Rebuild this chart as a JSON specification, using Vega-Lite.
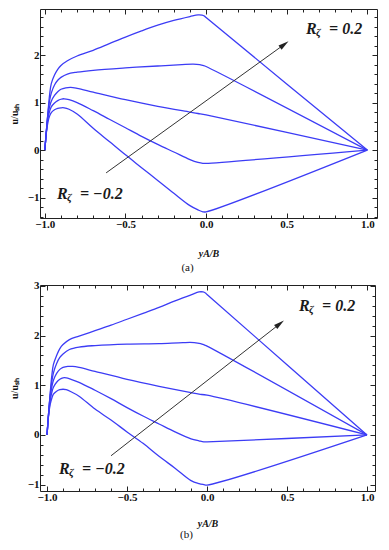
{
  "$schema": "https://vega.github.io/schema/vega-lite/v6.json",
  "padding": {"left": 8, "top": 8, "right": 5, "bottom": 5},
  "background": "white",
  "spacing": 67,
  "bounds": "flush",
  "config": {
    "view": {"stroke": "#222", "strokeWidth": 1},
    "axis": {"domain": false, "grid": false, "tickColor": "#222", "tickWidth": 1, "labelFont": "Liberation Serif", "labelFontWeight": "bold", "labelFontSize": 11, "labelColor": "#111", "titleFont": "Liberation Serif", "titleFontWeight": "bold", "titleColor": "#111", "titleFontSize": 10}
  },
  "datasets": {
    "curvesA": [
      {"R": 0.2, "x": -1, "y": 0}, {"R": 0.2, "x": -0.99, "y": 0.42}, {"R": 0.2, "x": -0.98, "y": 0.82}, {"R": 0.2, "x": -0.97, "y": 1.18}, {"R": 0.2, "x": -0.96, "y": 1.4}, {"R": 0.2, "x": -0.94, "y": 1.58}, {"R": 0.2, "x": -0.92, "y": 1.7}, {"R": 0.2, "x": -0.9, "y": 1.78}, {"R": 0.2, "x": -0.86, "y": 1.88}, {"R": 0.2, "x": -0.8, "y": 1.98}, {"R": 0.2, "x": -0.7, "y": 2.1}, {"R": 0.2, "x": -0.6, "y": 2.24}, {"R": 0.2, "x": -0.5, "y": 2.38}, {"R": 0.2, "x": -0.4, "y": 2.51}, {"R": 0.2, "x": -0.3, "y": 2.63}, {"R": 0.2, "x": -0.2, "y": 2.73}, {"R": 0.2, "x": -0.1, "y": 2.81}, {"R": 0.2, "x": -0.05, "y": 2.845}, {"R": 0.2, "x": -0.025, "y": 2.84}, {"R": 0.2, "x": -0.01, "y": 2.82}, {"R": 0.2, "x": 0, "y": 2.79}, {"R": 0.2, "x": 1, "y": 0},
      {"R": 0.1, "x": -1, "y": 0}, {"R": 0.1, "x": -0.99, "y": 0.42}, {"R": 0.1, "x": -0.98, "y": 0.8}, {"R": 0.1, "x": -0.97, "y": 1.05}, {"R": 0.1, "x": -0.96, "y": 1.2}, {"R": 0.1, "x": -0.94, "y": 1.37}, {"R": 0.1, "x": -0.92, "y": 1.47}, {"R": 0.1, "x": -0.9, "y": 1.53}, {"R": 0.1, "x": -0.86, "y": 1.6}, {"R": 0.1, "x": -0.8, "y": 1.64}, {"R": 0.1, "x": -0.7, "y": 1.68}, {"R": 0.1, "x": -0.5, "y": 1.73}, {"R": 0.1, "x": -0.3, "y": 1.77}, {"R": 0.1, "x": -0.15, "y": 1.8}, {"R": 0.1, "x": -0.08, "y": 1.81}, {"R": 0.1, "x": -0.04, "y": 1.8}, {"R": 0.1, "x": -0.015, "y": 1.78}, {"R": 0.1, "x": 0, "y": 1.76}, {"R": 0.1, "x": 1, "y": 0},
      {"R": 0, "x": -1, "y": 0}, {"R": 0, "x": -0.99, "y": 0.42}, {"R": 0, "x": -0.98, "y": 0.75}, {"R": 0, "x": -0.97, "y": 0.92}, {"R": 0, "x": -0.96, "y": 1.03}, {"R": 0, "x": -0.94, "y": 1.15}, {"R": 0, "x": -0.92, "y": 1.23}, {"R": 0, "x": -0.9, "y": 1.28}, {"R": 0, "x": -0.87, "y": 1.31}, {"R": 0, "x": -0.84, "y": 1.32}, {"R": 0, "x": -0.8, "y": 1.3}, {"R": 0, "x": -0.7, "y": 1.22}, {"R": 0, "x": -0.5, "y": 1.06}, {"R": 0, "x": -0.3, "y": 0.92}, {"R": 0, "x": -0.1, "y": 0.8}, {"R": 0, "x": -0.05, "y": 0.77}, {"R": 0, "x": 0, "y": 0.74}, {"R": 0, "x": 1, "y": 0},
      {"R": -0.1, "x": -1, "y": 0}, {"R": -0.1, "x": -0.99, "y": 0.4}, {"R": -0.1, "x": -0.98, "y": 0.68}, {"R": -0.1, "x": -0.97, "y": 0.82}, {"R": -0.1, "x": -0.96, "y": 0.91}, {"R": -0.1, "x": -0.94, "y": 0.99}, {"R": -0.1, "x": -0.92, "y": 1.04}, {"R": -0.1, "x": -0.9, "y": 1.07}, {"R": -0.1, "x": -0.88, "y": 1.08}, {"R": -0.1, "x": -0.85, "y": 1.06}, {"R": -0.1, "x": -0.8, "y": 1.0}, {"R": -0.1, "x": -0.7, "y": 0.83}, {"R": -0.1, "x": -0.6, "y": 0.65}, {"R": -0.1, "x": -0.5, "y": 0.47}, {"R": -0.1, "x": -0.4, "y": 0.29}, {"R": -0.1, "x": -0.3, "y": 0.12}, {"R": -0.1, "x": -0.2, "y": -0.04}, {"R": -0.1, "x": -0.1, "y": -0.2}, {"R": -0.1, "x": -0.05, "y": -0.26}, {"R": -0.1, "x": -0.02, "y": -0.28}, {"R": -0.1, "x": 0, "y": -0.28}, {"R": -0.1, "x": 1, "y": 0},
      {"R": -0.2, "x": -1, "y": 0}, {"R": -0.2, "x": -0.99, "y": 0.38}, {"R": -0.2, "x": -0.98, "y": 0.6}, {"R": -0.2, "x": -0.97, "y": 0.72}, {"R": -0.2, "x": -0.96, "y": 0.79}, {"R": -0.2, "x": -0.94, "y": 0.85}, {"R": -0.2, "x": -0.92, "y": 0.88}, {"R": -0.2, "x": -0.9, "y": 0.89}, {"R": -0.2, "x": -0.88, "y": 0.89}, {"R": -0.2, "x": -0.85, "y": 0.86}, {"R": -0.2, "x": -0.8, "y": 0.76}, {"R": -0.2, "x": -0.7, "y": 0.46}, {"R": -0.2, "x": -0.6, "y": 0.18}, {"R": -0.2, "x": -0.5, "y": -0.1}, {"R": -0.2, "x": -0.4, "y": -0.37}, {"R": -0.2, "x": -0.3, "y": -0.64}, {"R": -0.2, "x": -0.2, "y": -0.91}, {"R": -0.2, "x": -0.1, "y": -1.17}, {"R": -0.2, "x": -0.05, "y": -1.26}, {"R": -0.2, "x": -0.02, "y": -1.3}, {"R": -0.2, "x": 0, "y": -1.3}, {"R": -0.2, "x": 1, "y": 0}
    ],
    "curvesB": [
      {"R": 0.2, "x": -1, "y": 0}, {"R": 0.2, "x": -0.99, "y": 0.45}, {"R": 0.2, "x": -0.98, "y": 0.85}, {"R": 0.2, "x": -0.97, "y": 1.2}, {"R": 0.2, "x": -0.96, "y": 1.42}, {"R": 0.2, "x": -0.94, "y": 1.6}, {"R": 0.2, "x": -0.92, "y": 1.74}, {"R": 0.2, "x": -0.9, "y": 1.82}, {"R": 0.2, "x": -0.86, "y": 1.92}, {"R": 0.2, "x": -0.8, "y": 1.99}, {"R": 0.2, "x": -0.7, "y": 2.1}, {"R": 0.2, "x": -0.6, "y": 2.21}, {"R": 0.2, "x": -0.5, "y": 2.33}, {"R": 0.2, "x": -0.4, "y": 2.45}, {"R": 0.2, "x": -0.3, "y": 2.57}, {"R": 0.2, "x": -0.2, "y": 2.7}, {"R": 0.2, "x": -0.1, "y": 2.82}, {"R": 0.2, "x": -0.05, "y": 2.88}, {"R": 0.2, "x": -0.025, "y": 2.88}, {"R": 0.2, "x": -0.01, "y": 2.86}, {"R": 0.2, "x": 0, "y": 2.83}, {"R": 0.2, "x": 1, "y": 0},
      {"R": 0.1, "x": -1, "y": 0}, {"R": 0.1, "x": -0.99, "y": 0.45}, {"R": 0.1, "x": -0.98, "y": 0.82}, {"R": 0.1, "x": -0.97, "y": 1.08}, {"R": 0.1, "x": -0.96, "y": 1.25}, {"R": 0.1, "x": -0.94, "y": 1.44}, {"R": 0.1, "x": -0.92, "y": 1.56}, {"R": 0.1, "x": -0.9, "y": 1.63}, {"R": 0.1, "x": -0.86, "y": 1.72}, {"R": 0.1, "x": -0.8, "y": 1.77}, {"R": 0.1, "x": -0.7, "y": 1.8}, {"R": 0.1, "x": -0.5, "y": 1.83}, {"R": 0.1, "x": -0.3, "y": 1.84}, {"R": 0.1, "x": -0.15, "y": 1.86}, {"R": 0.1, "x": -0.08, "y": 1.86}, {"R": 0.1, "x": -0.04, "y": 1.84}, {"R": 0.1, "x": -0.015, "y": 1.81}, {"R": 0.1, "x": 0, "y": 1.79}, {"R": 0.1, "x": 1, "y": 0},
      {"R": 0, "x": -1, "y": 0}, {"R": 0, "x": -0.99, "y": 0.44}, {"R": 0, "x": -0.98, "y": 0.78}, {"R": 0, "x": -0.97, "y": 0.97}, {"R": 0, "x": -0.96, "y": 1.1}, {"R": 0, "x": -0.94, "y": 1.24}, {"R": 0, "x": -0.92, "y": 1.32}, {"R": 0, "x": -0.9, "y": 1.36}, {"R": 0, "x": -0.87, "y": 1.38}, {"R": 0, "x": -0.84, "y": 1.38}, {"R": 0, "x": -0.8, "y": 1.36}, {"R": 0, "x": -0.7, "y": 1.28}, {"R": 0, "x": -0.5, "y": 1.12}, {"R": 0, "x": -0.3, "y": 0.98}, {"R": 0, "x": -0.1, "y": 0.85}, {"R": 0, "x": -0.05, "y": 0.82}, {"R": 0, "x": 0, "y": 0.8}, {"R": 0, "x": 1, "y": 0},
      {"R": -0.1, "x": -1, "y": 0}, {"R": -0.1, "x": -0.99, "y": 0.42}, {"R": -0.1, "x": -0.98, "y": 0.7}, {"R": -0.1, "x": -0.97, "y": 0.86}, {"R": -0.1, "x": -0.96, "y": 0.96}, {"R": -0.1, "x": -0.94, "y": 1.06}, {"R": -0.1, "x": -0.92, "y": 1.12}, {"R": -0.1, "x": -0.9, "y": 1.15}, {"R": -0.1, "x": -0.88, "y": 1.15}, {"R": -0.1, "x": -0.85, "y": 1.12}, {"R": -0.1, "x": -0.8, "y": 1.06}, {"R": -0.1, "x": -0.7, "y": 0.9}, {"R": -0.1, "x": -0.6, "y": 0.73}, {"R": -0.1, "x": -0.5, "y": 0.55}, {"R": -0.1, "x": -0.4, "y": 0.38}, {"R": -0.1, "x": -0.3, "y": 0.22}, {"R": -0.1, "x": -0.2, "y": 0.06}, {"R": -0.1, "x": -0.1, "y": -0.08}, {"R": -0.1, "x": -0.05, "y": -0.12}, {"R": -0.1, "x": -0.02, "y": -0.14}, {"R": -0.1, "x": 0, "y": -0.14}, {"R": -0.1, "x": 1, "y": 0},
      {"R": -0.2, "x": -1, "y": 0}, {"R": -0.2, "x": -0.99, "y": 0.4}, {"R": -0.2, "x": -0.98, "y": 0.62}, {"R": -0.2, "x": -0.97, "y": 0.74}, {"R": -0.2, "x": -0.96, "y": 0.82}, {"R": -0.2, "x": -0.94, "y": 0.88}, {"R": -0.2, "x": -0.92, "y": 0.91}, {"R": -0.2, "x": -0.9, "y": 0.92}, {"R": -0.2, "x": -0.88, "y": 0.91}, {"R": -0.2, "x": -0.85, "y": 0.87}, {"R": -0.2, "x": -0.8, "y": 0.78}, {"R": -0.2, "x": -0.7, "y": 0.52}, {"R": -0.2, "x": -0.6, "y": 0.3}, {"R": -0.2, "x": -0.5, "y": 0.06}, {"R": -0.2, "x": -0.4, "y": -0.17}, {"R": -0.2, "x": -0.3, "y": -0.43}, {"R": -0.2, "x": -0.2, "y": -0.67}, {"R": -0.2, "x": -0.1, "y": -0.92}, {"R": -0.2, "x": -0.05, "y": -0.98}, {"R": -0.2, "x": -0.02, "y": -1.0}, {"R": -0.2, "x": 0, "y": -1.01}, {"R": -0.2, "x": 1, "y": 0}
    ],
    "arrowA": [{"x": -0.62, "y": -0.48}, {"x": 0.485, "y": 2.224}],
    "headA": [{"x": 0.485, "y": 2.224}],
    "labelsA": [{"x": -0.925, "y": -0.93, "r": "R", "z": "ζ", "v": "=  −0.2"}, {"x": 0.62, "y": 2.55, "r": "R", "z": "ζ", "v": "=  0.2"}],
    "arrowB": [{"x": -0.6, "y": -0.42}, {"x": 0.455, "y": 2.238}],
    "headB": [{"x": 0.455, "y": 2.238}],
    "labelsB": [{"x": -0.925, "y": -0.69, "r": "R", "z": "ζ", "v": "=  −0.2"}, {"x": 0.575, "y": 2.6, "r": "R", "z": "ζ", "v": "=  0.2"}]
  },
  "vconcat": [
    {
      "width": 337, "height": 209,
      "title": {"text": "(a)", "orient": "bottom", "anchor": "middle", "font": "Liberation Serif", "fontSize": 11, "fontWeight": "normal", "color": "#111", "offset": 4, "dx": -21},
      "resolve": {"scale": {"x": "shared", "y": "shared"}, "axis": {"x": "independent", "y": "independent"}},
      "layer": [
        {
          "data": {"name": "curvesA"},
          "mark": {"type": "line", "interpolate": "catmull-rom", "color": "#3c3cf5", "strokeWidth": 1.3},
          "encoding": {
            "x": {"field": "x", "type": "quantitative", "scale": {"domain": [-1.03, 1.06], "nice": false, "zero": false}, "axis": {"orient": "bottom", "values": [-1, -0.5, 0, 0.5, 1], "format": ".1f", "tickSize": -5, "labelPadding": 5, "title": "yA/B", "titleFontStyle": "italic", "titlePadding": 19}},
            "y": {"field": "y", "type": "quantitative", "scale": {"domain": [-1.43, 2.97], "nice": false, "zero": false}, "axis": {"orient": "left", "values": [-1, 0, 1, 2], "format": "d", "tickSize": -5, "labelPadding": 6, "title": "u/uₛₕ", "titlePadding": 8}},
            "detail": {"field": "R", "type": "nominal"}
          }
        },
        {
          "data": {"name": "arrowA"},
          "mark": {"type": "line", "color": "#333", "strokeWidth": 1},
          "encoding": {
            "x": {"field": "x", "type": "quantitative", "scale": {"domain": [-1.03, 1.06], "nice": false, "zero": false}, "axis": {"orient": "top", "values": [-1, -0.5, 0, 0.5, 1], "labels": false, "tickSize": -5, "title": null}},
            "y": {"field": "y", "type": "quantitative", "scale": {"domain": [-1.43, 2.97], "nice": false, "zero": false}, "axis": {"orient": "right", "values": [-1, 0, 1, 2], "labels": false, "tickSize": -5, "title": null}}
          }
        },
        {
          "data": {"name": "headA"},
          "mark": {"type": "point", "shape": "M0,-1L0.5,1L-0.5,1Z", "filled": true, "color": "#222", "size": 110, "angle": 54, "opacity": 1},
          "encoding": {
            "x": {"field": "x", "type": "quantitative", "scale": {"domain": [-1.03, 1.06], "nice": false, "zero": false}, "axis": {"orient": "bottom", "values": [-1, -0.9, -0.8, -0.7, -0.6, -0.5, -0.4, -0.3, -0.2, -0.1, 0, 0.1, 0.2, 0.3, 0.4, 0.5, 0.6, 0.7, 0.8, 0.9, 1], "labels": false, "tickSize": -3, "title": null}},
            "y": {"field": "y", "type": "quantitative", "scale": {"domain": [-1.43, 2.97], "nice": false, "zero": false}, "axis": {"orient": "left", "values": [-1.4, -1.2, -1, -0.8, -0.6, -0.4, -0.2, 0, 0.2, 0.4, 0.6, 0.8, 1, 1.2, 1.4, 1.6, 1.8, 2, 2.2, 2.4, 2.6, 2.8], "labels": false, "tickSize": -3, "title": null}}
          }
        },
        {
          "data": {"name": "labelsA"},
          "mark": {"type": "text", "align": "left", "baseline": "middle", "font": "Liberation Serif", "fontSize": 16, "fontWeight": "bold", "fontStyle": "italic", "color": "#1a1a1a"},
          "encoding": {
            "x": {"field": "x", "type": "quantitative", "scale": {"domain": [-1.03, 1.06], "nice": false, "zero": false}, "axis": {"orient": "top", "values": [-1, -0.9, -0.8, -0.7, -0.6, -0.5, -0.4, -0.3, -0.2, -0.1, 0, 0.1, 0.2, 0.3, 0.4, 0.5, 0.6, 0.7, 0.8, 0.9, 1], "labels": false, "tickSize": -3, "title": null}},
            "y": {"field": "y", "type": "quantitative", "scale": {"domain": [-1.43, 2.97], "nice": false, "zero": false}, "axis": {"orient": "right", "values": [-1.4, -1.2, -1, -0.8, -0.6, -0.4, -0.2, 0, 0.2, 0.4, 0.6, 0.8, 1, 1.2, 1.4, 1.6, 1.8, 2, 2.2, 2.4, 2.6, 2.8], "labels": false, "tickSize": -3, "title": null}},
            "text": {"field": "r"}
          }
        },
        {
          "data": {"name": "labelsA"},
          "mark": {"type": "text", "align": "left", "baseline": "middle", "font": "Liberation Serif", "fontSize": 11, "fontWeight": "bold", "fontStyle": "italic", "color": "#1a1a1a", "dx": 10, "dy": 4},
          "encoding": {
            "x": {"field": "x", "type": "quantitative", "scale": {"domain": [-1.03, 1.06], "nice": false, "zero": false}, "axis": null},
            "y": {"field": "y", "type": "quantitative", "scale": {"domain": [-1.43, 2.97], "nice": false, "zero": false}, "axis": null},
            "text": {"field": "z"}
          }
        },
        {
          "data": {"name": "labelsA"},
          "mark": {"type": "text", "align": "left", "baseline": "middle", "font": "Liberation Serif", "fontSize": 16, "fontWeight": "bold", "fontStyle": "italic", "color": "#1a1a1a", "dx": 23},
          "encoding": {
            "x": {"field": "x", "type": "quantitative", "scale": {"domain": [-1.03, 1.06], "nice": false, "zero": false}, "axis": null},
            "y": {"field": "y", "type": "quantitative", "scale": {"domain": [-1.43, 2.97], "nice": false, "zero": false}, "axis": null},
            "text": {"field": "v"}
          }
        },
        {
          "mark": {"type": "rule", "color": "#111", "strokeWidth": 1},
          "encoding": {
            "x": {"datum": 0, "type": "quantitative", "scale": {"domain": [-1.03, 1.06], "nice": false, "zero": false}, "axis": null}
          }
        }
      ]
    },
    {
      "width": 335, "height": 206,
      "title": {"text": "(b)", "orient": "bottom", "anchor": "middle", "font": "Liberation Serif", "fontSize": 11, "fontWeight": "normal", "color": "#111", "offset": 1, "dx": -21},
      "resolve": {"scale": {"x": "shared", "y": "shared"}, "axis": {"x": "independent", "y": "independent"}},
      "layer": [
        {
          "data": {"name": "curvesB"},
          "mark": {"type": "line", "interpolate": "catmull-rom", "color": "#3c3cf5", "strokeWidth": 1.3},
          "encoding": {
            "x": {"field": "x", "type": "quantitative", "scale": {"domain": [-1.044, 1.05], "nice": false, "zero": false}, "axis": {"orient": "bottom", "values": [-1, -0.5, 0, 0.5, 1], "format": ".1f", "tickSize": -5, "labelPadding": 5, "title": "yA/B", "titleFontStyle": "italic", "titlePadding": 16}},
            "y": {"field": "y", "type": "quantitative", "scale": {"domain": [-1.13, 3.02], "nice": false, "zero": false}, "axis": {"orient": "left", "values": [-1, 0, 1, 2, 3], "format": "d", "tickSize": -5, "labelPadding": 6, "title": "u/uₛₕ", "titlePadding": 8}},
            "detail": {"field": "R", "type": "nominal"}
          }
        },
        {
          "data": {"name": "arrowB"},
          "mark": {"type": "line", "color": "#333", "strokeWidth": 1},
          "encoding": {
            "x": {"field": "x", "type": "quantitative", "scale": {"domain": [-1.044, 1.05], "nice": false, "zero": false}, "axis": {"orient": "top", "values": [-1, -0.5, 0, 0.5, 1], "labels": false, "tickSize": -5, "title": null}},
            "y": {"field": "y", "type": "quantitative", "scale": {"domain": [-1.13, 3.02], "nice": false, "zero": false}, "axis": {"orient": "right", "values": [-1, 0, 1, 2, 3], "labels": false, "tickSize": -5, "title": null}}
          }
        },
        {
          "data": {"name": "headB"},
          "mark": {"type": "point", "shape": "M0,-1L0.5,1L-0.5,1Z", "filled": true, "color": "#222", "size": 110, "angle": 52, "opacity": 1},
          "encoding": {
            "x": {"field": "x", "type": "quantitative", "scale": {"domain": [-1.044, 1.05], "nice": false, "zero": false}, "axis": {"orient": "bottom", "values": [-1, -0.9, -0.8, -0.7, -0.6, -0.5, -0.4, -0.3, -0.2, -0.1, 0, 0.1, 0.2, 0.3, 0.4, 0.5, 0.6, 0.7, 0.8, 0.9, 1], "labels": false, "tickSize": -3, "title": null}},
            "y": {"field": "y", "type": "quantitative", "scale": {"domain": [-1.13, 3.02], "nice": false, "zero": false}, "axis": {"orient": "left", "values": [-1, -0.8, -0.6, -0.4, -0.2, 0, 0.2, 0.4, 0.6, 0.8, 1, 1.2, 1.4, 1.6, 1.8, 2, 2.2, 2.4, 2.6, 2.8, 3], "labels": false, "tickSize": -3, "title": null}}
          }
        },
        {
          "data": {"name": "labelsB"},
          "mark": {"type": "text", "align": "left", "baseline": "middle", "font": "Liberation Serif", "fontSize": 16, "fontWeight": "bold", "fontStyle": "italic", "color": "#1a1a1a"},
          "encoding": {
            "x": {"field": "x", "type": "quantitative", "scale": {"domain": [-1.044, 1.05], "nice": false, "zero": false}, "axis": {"orient": "top", "values": [-1, -0.9, -0.8, -0.7, -0.6, -0.5, -0.4, -0.3, -0.2, -0.1, 0, 0.1, 0.2, 0.3, 0.4, 0.5, 0.6, 0.7, 0.8, 0.9, 1], "labels": false, "tickSize": -3, "title": null}},
            "y": {"field": "y", "type": "quantitative", "scale": {"domain": [-1.13, 3.02], "nice": false, "zero": false}, "axis": {"orient": "right", "values": [-1, -0.8, -0.6, -0.4, -0.2, 0, 0.2, 0.4, 0.6, 0.8, 1, 1.2, 1.4, 1.6, 1.8, 2, 2.2, 2.4, 2.6, 2.8, 3], "labels": false, "tickSize": -3, "title": null}},
            "text": {"field": "r"}
          }
        },
        {
          "data": {"name": "labelsB"},
          "mark": {"type": "text", "align": "left", "baseline": "middle", "font": "Liberation Serif", "fontSize": 11, "fontWeight": "bold", "fontStyle": "italic", "color": "#1a1a1a", "dx": 10, "dy": 4},
          "encoding": {
            "x": {"field": "x", "type": "quantitative", "scale": {"domain": [-1.044, 1.05], "nice": false, "zero": false}, "axis": null},
            "y": {"field": "y", "type": "quantitative", "scale": {"domain": [-1.13, 3.02], "nice": false, "zero": false}, "axis": null},
            "text": {"field": "z"}
          }
        },
        {
          "data": {"name": "labelsB"},
          "mark": {"type": "text", "align": "left", "baseline": "middle", "font": "Liberation Serif", "fontSize": 16, "fontWeight": "bold", "fontStyle": "italic", "color": "#1a1a1a", "dx": 23},
          "encoding": {
            "x": {"field": "x", "type": "quantitative", "scale": {"domain": [-1.044, 1.05], "nice": false, "zero": false}, "axis": null},
            "y": {"field": "y", "type": "quantitative", "scale": {"domain": [-1.13, 3.02], "nice": false, "zero": false}, "axis": null},
            "text": {"field": "v"}
          }
        },
        {
          "mark": {"type": "rule", "color": "#111", "strokeWidth": 1},
          "encoding": {
            "x": {"datum": 0, "type": "quantitative", "scale": {"domain": [-1.044, 1.05], "nice": false, "zero": false}, "axis": null}
          }
        }
      ]
    }
  ]
}
